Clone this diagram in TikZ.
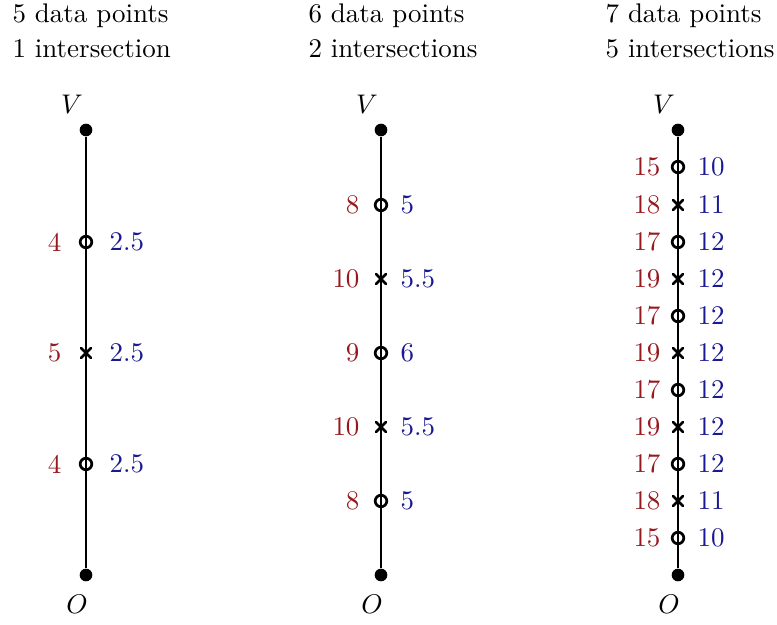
\documentclass[tikz,border=0pt]{standalone}
\begin{document}
\definecolor{lred}{RGB}{150,25,30}
\definecolor{lblue}{RGB}{25,25,145}
\begin{tikzpicture}[x=0.371pt,y=-0.371pt,
  axis/.style={line width=1pt},
  endpt/.style={circle,fill=black,inner sep=0pt,minimum size=4.7pt},
  omark/.style={circle,draw=black,line width=1pt,inner sep=0pt,minimum size=4.3pt},
  xmark/.style={inner sep=0pt,minimum size=4.4pt,path picture={\draw[line width=1pt] (path picture bounding box.north west)--(path picture bounding box.south east) (path picture bounding box.north east)--(path picture bounding box.south west);}},
  rlab/.style={text=lred,anchor=east,inner sep=0pt},
  blab/.style={text=lblue,anchor=west,inner sep=0pt},
  ttl/.style={anchor=base west,inner sep=0pt}]
\useasboundingbox (0,0) rectangle (777,624);
% titles
\node[ttl] (t1a) at (12,22) {5 data points};
\node[ttl] (t1b) at (12,57) {1 intersection};
\node[ttl] (t2a) at (308,22) {6 data points};
\node[ttl] (t2b) at (308,57) {2 intersections};
\node[ttl] (t3a) at (605,22) {7 data points};
\node[ttl] (t3b) at (605,57) {5 intersections};
% columns
\foreach \c/\x in {1/86,2/381,3/678}{
  \node[endpt] (V\c) at (\x,130) {};
  \node[endpt] (O\c) at (\x,575) {};
  \draw[axis] (V\c) -- (O\c);
  \node (VL\c) at (\x-14,104) {$V$};
  \node (OL\c) at (\x-9,604) {$O$};
}
% column 1
\foreach \i/\y/\m/\r/\b in {1/242/omark/4/2.5, 2/353/xmark/5/2.5, 3/464/omark/4/2.5}{
  \node[\m] (a\i) at (86,\y) {};
  \node[rlab] at ([xshift=-24*0.371pt]a\i.center) {\r};
  \node[blab] at ([xshift=23*0.371pt]a\i.center) {\b};
}
% column 2
\foreach \i/\y/\m/\r/\b in {1/205/omark/8/5, 2/279/xmark/10/5.5, 3/353/omark/9/6, 4/427/xmark/10/5.5, 5/501/omark/8/5}{
  \node[\m] (b\i) at (381,\y) {};
  \node[rlab] at ([xshift=-21*0.371pt]b\i.center) {\r};
  \node[blab] at ([xshift=19*0.371pt]b\i.center) {\b};
}
% column 3
\foreach \i/\y/\m/\r/\b in {1/167/omark/15/10, 2/205/xmark/18/11, 3/242/omark/17/12, 4/279/xmark/19/12, 5/316/omark/17/12, 6/353/xmark/19/12, 7/390/omark/17/12, 8/427/xmark/19/12, 9/464/omark/17/12, 10/501/xmark/18/11, 11/538/omark/15/10}{
  \node[\m] (c\i) at (678,\y) {};
  \node[rlab] at ([xshift=-17*0.371pt]c\i.center) {\r};
  \node[blab] at ([xshift=19*0.371pt]c\i.center) {\b};
}
\end{tikzpicture}
\end{document}
